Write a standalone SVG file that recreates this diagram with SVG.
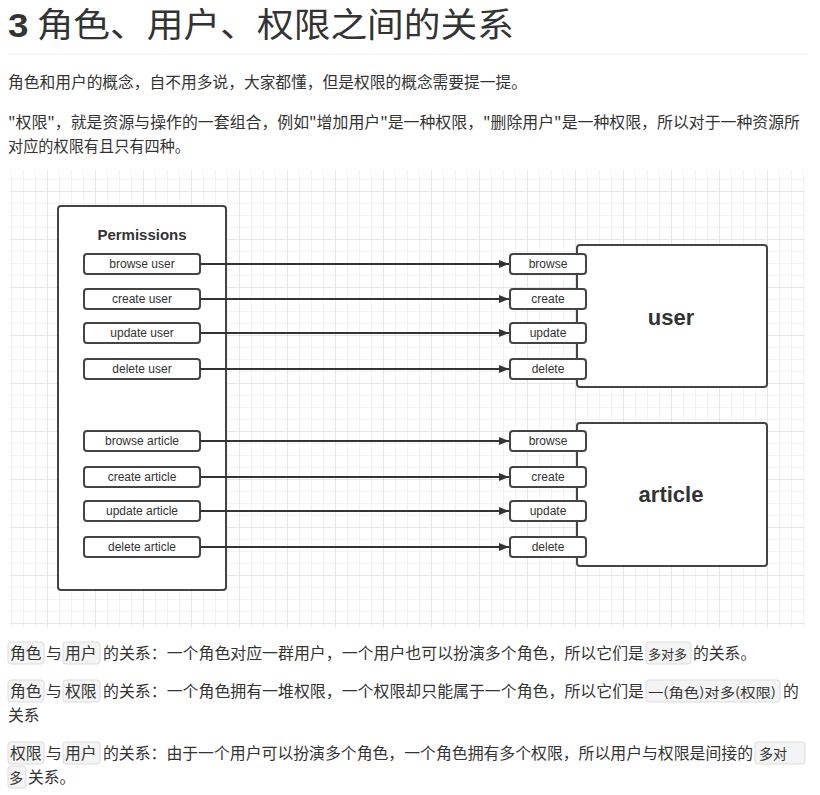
<svg xmlns="http://www.w3.org/2000/svg" width="820" height="795" viewBox="0 0 820 795">
<style>
.t{font-family:"Noto Sans CJK SC","Liberation Sans",sans-serif;fill:#333;font-size:15.8px}
.d{font-family:"Liberation Sans",Arial,sans-serif;fill:#333;font-size:12px;text-anchor:middle}
.b{fill:#fff;stroke:#444;stroke-width:2}
.c{fill:#f4f4f4;stroke:#ddd;stroke-width:1}
.l{stroke:#333;stroke-width:2;fill:none;marker-end:url(#a)}
</style>
<defs>
<pattern id="g" width="12" height="12" patternUnits="userSpaceOnUse"><path d="M12 0V12H0" fill="none" stroke="#e6e6e6" stroke-width="1"/></pattern>
<pattern id="G" width="48" height="48" patternUnits="userSpaceOnUse"><rect width="48" height="48" fill="url(#g)"/><path d="M48 0V48H0" fill="none" stroke="#dcdcdc" stroke-width="1"/></pattern>
<marker id="a" markerWidth="10" markerHeight="8" refX="10" refY="4" orient="auto" markerUnits="userSpaceOnUse"><path d="M0 0L10 4L0 8z" fill="#333"/></marker>
</defs>
<rect width="820" height="795" fill="#fff"/>
<text x="8" y="37" class="t" style="font-size:34px" textLength="506" lengthAdjust="spacingAndGlyphs"><tspan font-weight="bold" font-family="Liberation Sans">3</tspan> 角色、用户、权限之间的关系</text>
<line x1="8" y1="54" x2="808" y2="54" stroke="#eee"/>
<text x="8" y="88" class="t" textLength="519" lengthAdjust="spacingAndGlyphs">角色和用户的概念，自不用多说，大家都懂，但是权限的概念需要提一提。</text>
<text x="8" y="128" class="t" textLength="792" lengthAdjust="spacingAndGlyphs">"权限"，就是资源与操作的一套组合，例如"增加用户"是一种权限，"删除用户"是一种权限，所以对于一种资源所</text>
<text x="8" y="152" class="t" textLength="182" lengthAdjust="spacingAndGlyphs">对应的权限有且只有四种。</text>
<rect x="10" y="170" width="795" height="458" fill="url(#G)"/>
<g id="permissions"><rect x="58" y="206" width="168" height="384" rx="3" class="b"/><text x="142" y="240" class="d" style="font-size:15px;font-weight:bold">Permissions</text></g>
<g id="p1"><rect x="84" y="254" width="116" height="20" rx="3" class="b"/><text x="142" y="268" class="d">browse user</text></g>
<g id="p2"><rect x="84" y="289" width="116" height="20" rx="3" class="b"/><text x="142" y="303" class="d">create user</text></g>
<g id="p3"><rect x="84" y="323" width="116" height="20" rx="3" class="b"/><text x="142" y="337" class="d">update user</text></g>
<g id="p4"><rect x="84" y="359" width="116" height="20" rx="3" class="b"/><text x="142" y="373" class="d">delete user</text></g>
<g id="p5"><rect x="84" y="431" width="116" height="20" rx="3" class="b"/><text x="142" y="445" class="d">browse article</text></g>
<g id="p6"><rect x="84" y="467" width="116" height="20" rx="3" class="b"/><text x="142" y="481" class="d">create article</text></g>
<g id="p7"><rect x="84" y="501" width="116" height="20" rx="3" class="b"/><text x="142" y="515" class="d">update article</text></g>
<g id="p8"><rect x="84" y="537" width="116" height="20" rx="3" class="b"/><text x="142" y="551" class="d">delete article</text></g>
<g id="user"><rect x="577" y="245" width="190" height="142" rx="3" class="b"/><text x="671" y="325" class="d" style="font-size:22px;font-weight:bold">user</text></g>
<g id="article"><rect x="577" y="423" width="190" height="143" rx="3" class="b"/><text x="671" y="502" class="d" style="font-size:22px;font-weight:bold">article</text></g>
<g id="u1"><rect x="510" y="254" width="76" height="20" rx="3" class="b"/><text x="548" y="268" class="d">browse</text></g>
<g id="u2"><rect x="510" y="289" width="76" height="20" rx="3" class="b"/><text x="548" y="303" class="d">create</text></g>
<g id="u3"><rect x="510" y="323" width="76" height="20" rx="3" class="b"/><text x="548" y="337" class="d">update</text></g>
<g id="u4"><rect x="510" y="359" width="76" height="20" rx="3" class="b"/><text x="548" y="373" class="d">delete</text></g>
<g id="a1"><rect x="510" y="431" width="76" height="20" rx="3" class="b"/><text x="548" y="445" class="d">browse</text></g>
<g id="a2"><rect x="510" y="467" width="76" height="20" rx="3" class="b"/><text x="548" y="481" class="d">create</text></g>
<g id="a3"><rect x="510" y="501" width="76" height="20" rx="3" class="b"/><text x="548" y="515" class="d">update</text></g>
<g id="a4"><rect x="510" y="537" width="76" height="20" rx="3" class="b"/><text x="548" y="551" class="d">delete</text></g>
<g id="connectors">
<line x1="200" y1="264" x2="509" y2="264" class="l"/>
<line x1="200" y1="299" x2="509" y2="299" class="l"/>
<line x1="200" y1="333" x2="509" y2="333" class="l"/>
<line x1="200" y1="369" x2="509" y2="369" class="l"/>
<line x1="200" y1="441" x2="509" y2="441" class="l"/>
<line x1="200" y1="477" x2="509" y2="477" class="l"/>
<line x1="200" y1="511" x2="509" y2="511" class="l"/>
<line x1="200" y1="547" x2="509" y2="547" class="l"/>
</g>
<rect x="8" y="642" width="36" height="22" rx="3" class="c"/><rect x="63" y="642" width="37" height="22" rx="3" class="c"/><rect x="646" y="642" width="45" height="22" rx="3" class="c"/>
<text y="659" class="t"><tspan x="10">角色</tspan><tspan x="46">与</tspan><tspan x="65">用户</tspan><tspan x="103" textLength="541" lengthAdjust="spacingAndGlyphs">的关系：一个角色对应一群用户，一个用户也可以扮演多个角色，所以它们是</tspan><tspan x="648" style="font-size:13px">多对多</tspan><tspan x="693">的关系。</tspan></text>
<rect x="8" y="680" width="36" height="22" rx="3" class="c"/><rect x="63" y="680" width="37" height="22" rx="3" class="c"/><rect x="646" y="680" width="134" height="22" rx="3" class="c"/>
<text y="697" class="t"><tspan x="10">角色</tspan><tspan x="46">与</tspan><tspan x="65">权限</tspan><tspan x="103" textLength="541" lengthAdjust="spacingAndGlyphs">的关系：一个角色拥有一堆权限，一个权限却只能属于一个角色，所以它们是</tspan><tspan x="648" style="font-size:13px" textLength="128" lengthAdjust="spacingAndGlyphs">一(角色)对多(权限)</tspan><tspan x="783">的</tspan></text>
<text x="8" y="721" class="t">关系</text>
<rect x="8" y="742" width="36" height="22" rx="3" class="c"/><rect x="63" y="742" width="37" height="22" rx="3" class="c"/><rect x="755" y="742" width="50" height="22" rx="3" class="c"/><rect x="8" y="766" width="18" height="22" rx="3" class="c"/>
<text y="759" class="t"><tspan x="10">权限</tspan><tspan x="46">与</tspan><tspan x="65">用户</tspan><tspan x="103" textLength="650" lengthAdjust="spacingAndGlyphs">的关系：由于一个用户可以扮演多个角色，一个角色拥有多个权限，所以用户与权限是间接的</tspan><tspan x="759" style="font-size:14px">多对</tspan></text>
<text y="783" class="t"><tspan x="9" style="font-size:14px">多</tspan><tspan x="28">关系。</tspan></text>
</svg>
